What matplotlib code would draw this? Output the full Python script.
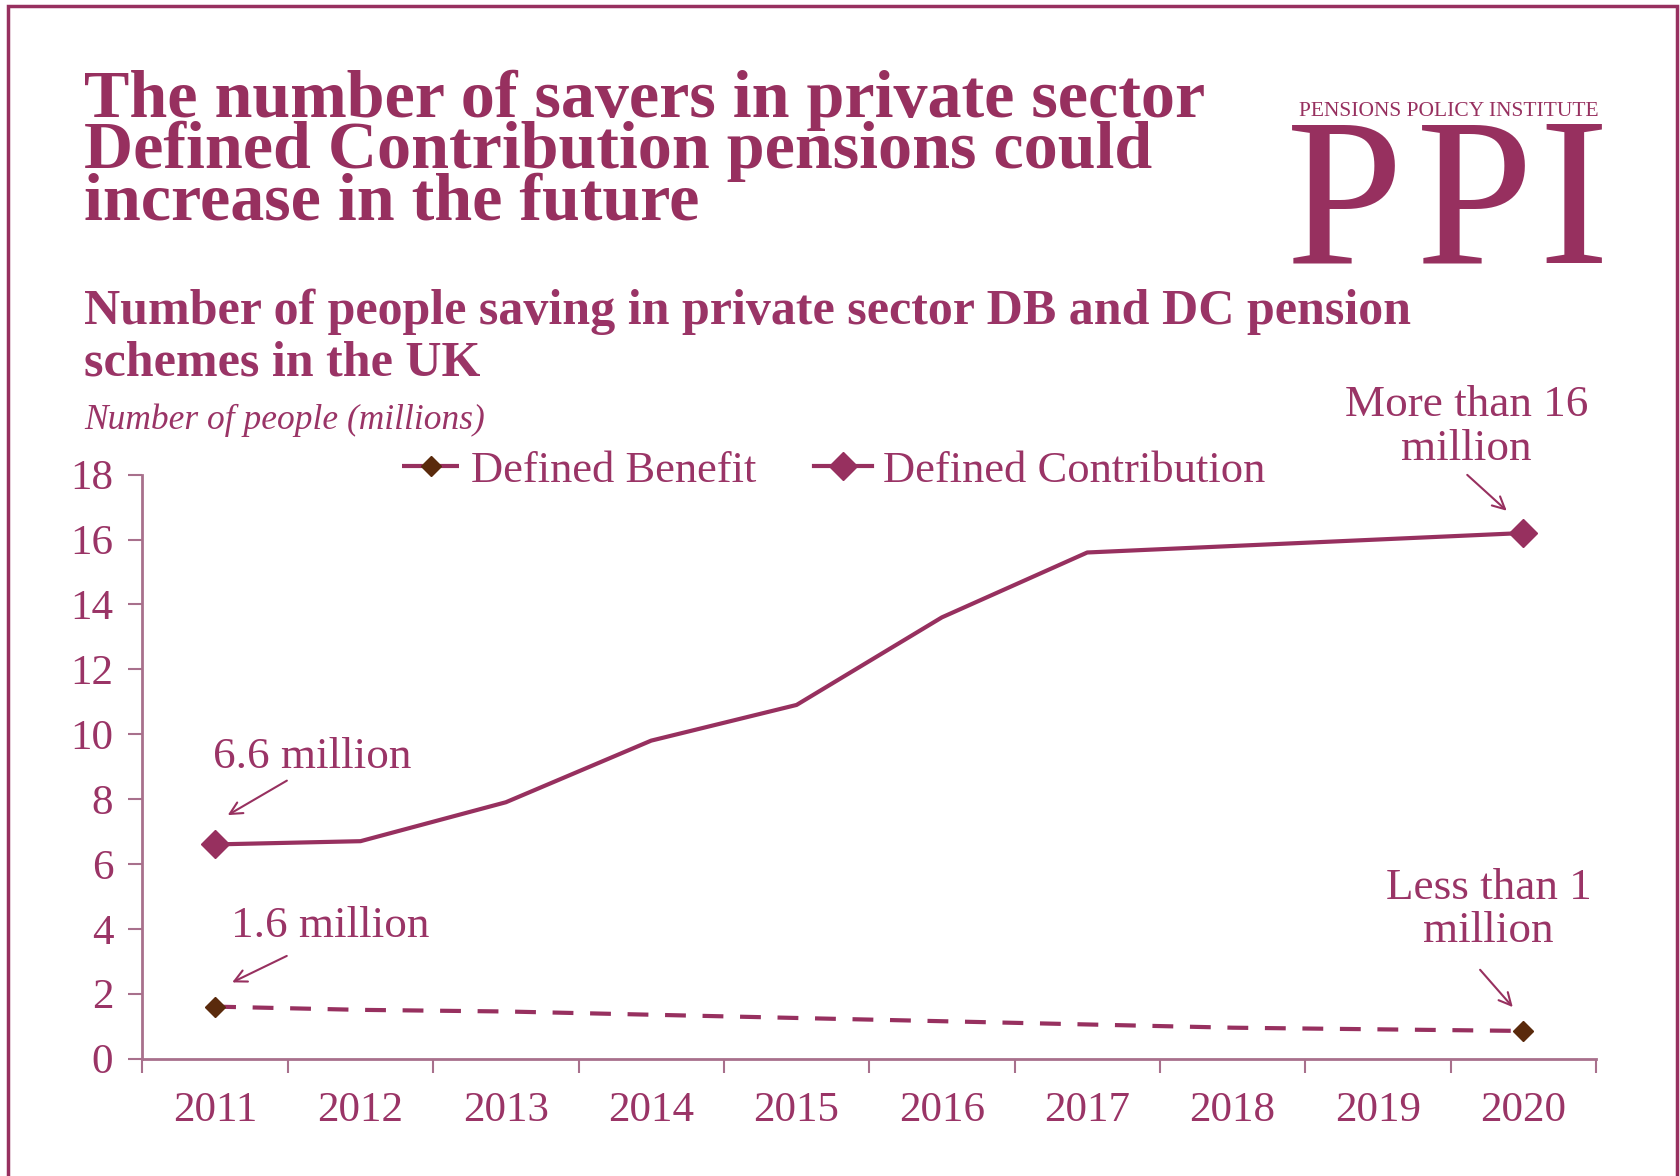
import matplotlib
matplotlib.use('Agg')
import matplotlib.pyplot as plt
import matplotlib.ticker as ticker
from matplotlib.patches import Rectangle

YEARS = ["2011", "2012", "2013", "2014", "2015", "2016", "2017", "2018", "2019", "2020"]
DB_SAVERS = [1.6, 1.5, 1.45, 1.35, 1.25, 1.15, 1.05, 0.95, 0.9, 0.85]
DC_SAVERS = [6.6, 6.7, 7.9, 9.8, 10.9, 13.6, 15.6, 15.8, 16.0, 16.2]

PURPLE = "#97305F"
TEXT = "#9A3466"
AXIS = "#A8708C"
BROWN = "#5A2A0C"
SERIF = ["Liberation Serif", "DejaVu Serif"]

plt.rcParams['font.family'] = SERIF


def main():
    fig = plt.figure(figsize=(16.8, 11.76), dpi=100)

    # outer frame
    fig.patches.append(Rectangle((0.0048, -0.05), 0.9932, 1.045, transform=fig.transFigure,
                                 fill=False, edgecolor=PURPLE, linewidth=2.5))

    fig.text(0.050, 0.941,
             "The number of savers in private sector\n"
             "Defined Contribution pensions could\n"
             "increase in the future",
             fontsize=49, fontweight="bold", color=PURPLE, va="top", ha="left",
             linespacing=0.79)
    fig.text(0.050, 0.755,
             "Number of people saving in private sector DB and DC pension\n"
             "schemes in the UK",
             fontsize=36, fontweight="bold", color=TEXT, va="top", ha="left",
             linespacing=1.18)
    fig.text(0.050, 0.643, "Number of people (millions)", fontsize=25.5, style="italic",
             color=TEXT, va="center", ha="left")

    # logo
    fig.text(0.8625, 0.905, "PENSIONS POLICY INSTITUTE", fontsize=15.5, color=PURPLE,
             ha="center", va="center")
    for letter, xpos in zip("PPI", [0.8006, 0.8780, 0.9369]):
        fig.text(xpos, 0.776, letter, fontsize=152, color=PURPLE, ha="center", va="baseline")

    ax = fig.add_axes([0.0848, 0.0999, 0.8652, 0.4965])
    x = range(len(YEARS))
    ax.plot(x, DB_SAVERS, color=PURPLE, linewidth=3, dashes=(5, 4),
            marker="D", markersize=10, markevery=[0, len(YEARS) - 1],
            markerfacecolor=BROWN, markeredgecolor=BROWN, label="Defined Benefit")
    ax.plot(x, DC_SAVERS, color=PURPLE, linewidth=3,
            marker="D", markersize=14, markevery=[0, len(YEARS) - 1],
            label="Defined Contribution")

    ax.set_xlim(-0.5, len(YEARS) - 0.5)
    ax.set_ylim(0, 18)
    ax.yaxis.set_major_locator(ticker.MultipleLocator(2))
    ax.set_xticks(list(x))
    ax.set_xticklabels(YEARS)
    ax.set_xticks([i - 0.5 for i in range(len(YEARS) + 1)], minor=True)

    for s in ["top", "right"]:
        ax.spines[s].set_visible(False)
    for s in ["left", "bottom"]:
        ax.spines[s].set_color(AXIS)
        ax.spines[s].set_linewidth(2)
    ax.tick_params(axis="y", colors=AXIS, labelcolor=TEXT, labelsize=31,
                   length=10, width=1.5, pad=11)
    ax.tick_params(axis="x", which="major", length=0, labelcolor=TEXT,
                   labelsize=31, pad=24)
    ax.tick_params(axis="x", which="minor", colors=AXIS, length=10, width=1.5)

    ax.legend(loc="center", bbox_to_anchor=(0.496, 0.5995), bbox_transform=fig.transFigure,
              ncol=2, frameon=False, fontsize=32, labelcolor=TEXT,
              handlelength=1.3, handletextpad=0.25, columnspacing=1.3)

    arrow = dict(arrowstyle="->", color=PURPLE, linewidth=1.5, mutation_scale=22)
    ax.annotate("", xy=(0.07, 7.46), xytext=(0.51, 8.61), arrowprops=arrow)
    ax.text(0.67, 9.3, "6.6 million", fontsize=32.5, color=TEXT, ha="center", va="center")
    ax.annotate("", xy=(0.10, 2.31), xytext=(0.51, 3.2), arrowprops=arrow)
    ax.text(0.79, 4.09, "1.6 million", fontsize=32.5, color=TEXT, ha="center", va="center")
    ax.annotate("", xy=(8.90, 16.83), xytext=(8.60, 18.05), arrowprops=arrow,
                annotation_clip=False)
    ax.text(8.61, 19.47, "More than 16\nmillion", fontsize=32.5, color=TEXT, ha="center",
            va="center", linespacing=1.12, clip_on=False)
    ax.annotate("", xy=(8.94, 1.52), xytext=(8.69, 2.8), arrowprops=arrow)
    ax.text(8.76, 4.59, "Less than 1\nmillion", fontsize=32.5, color=TEXT, ha="center",
            va="center", linespacing=1.12)

    fig.savefig("out.png", dpi=100)
    plt.close()


if __name__ == "__main__":
    main()
